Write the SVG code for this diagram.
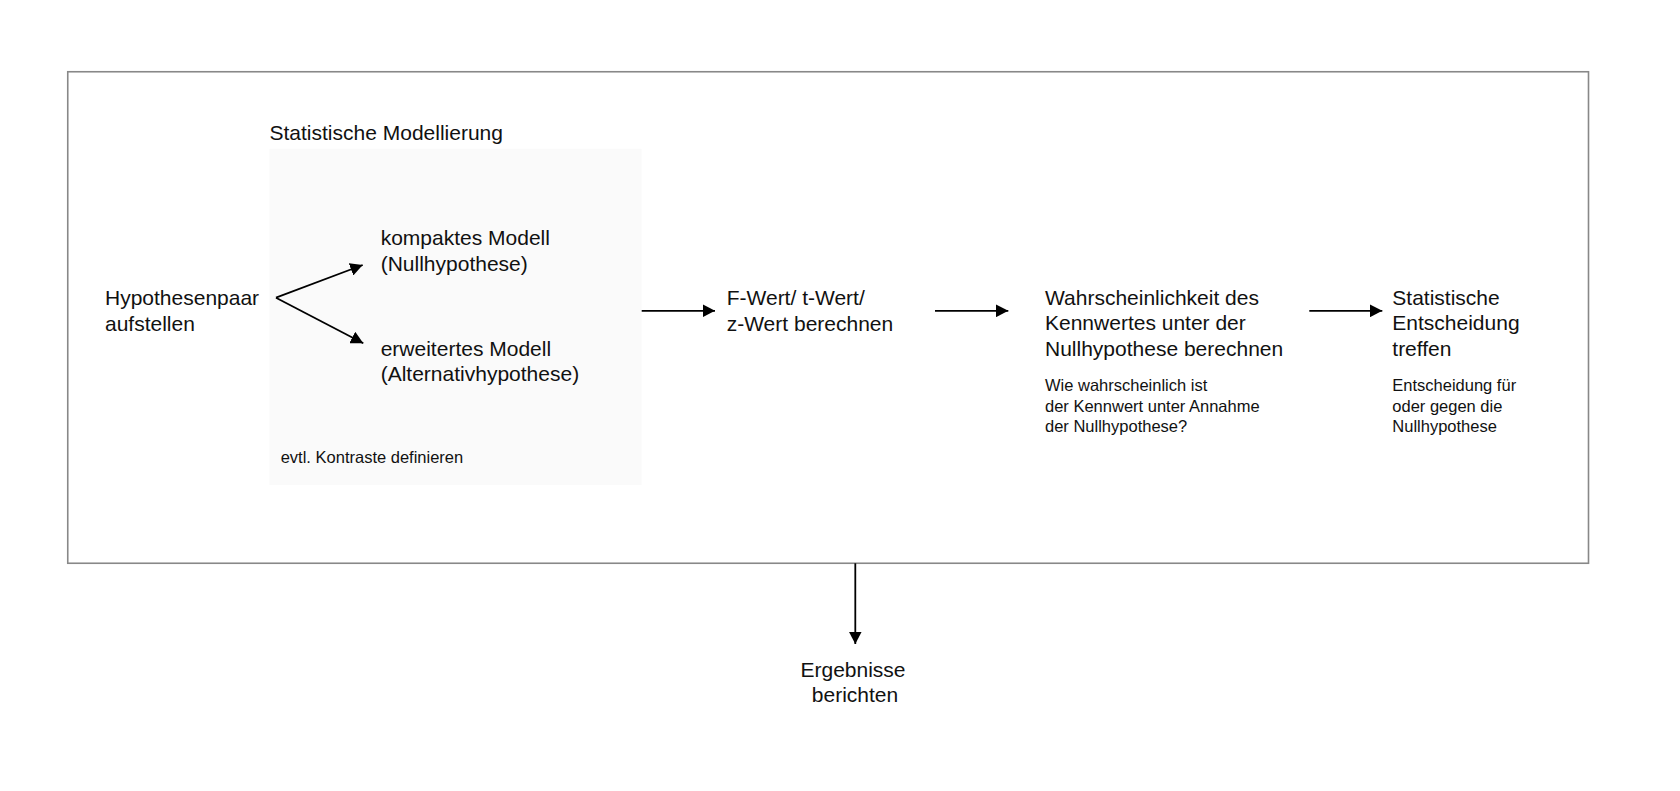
<svg xmlns="http://www.w3.org/2000/svg" width="1680" height="791" viewBox="0 0 1680 791">
  <defs>
    <marker id="ah" markerUnits="userSpaceOnUse" markerWidth="13" markerHeight="13" refX="12.5" refY="6.5" orient="auto">
      <path d="M0,0 L12.5,6.5 L0,13 z" fill="#000"/>
    </marker>
    <style>
      text { font-family: "Liberation Sans", Arial, sans-serif; fill: #111; }
      .main { font-size: 21px; }
      .small { font-size: 16.5px; }
      .conn { stroke: #000; stroke-width: 1.8; fill: none; marker-end: url(#ah); }
    </style>
  </defs>
  <rect width="1680" height="791" fill="#fff"/>
  <g id="frame">
    <rect x="67.75" y="71.75" width="1520.75" height="491.5" fill="none" stroke="#888" stroke-width="1.6"/>
  </g>
  <g id="modelling">
    <rect x="269.5" y="148.7" width="372" height="336.3" fill="#fafafa"/>
    <text class="main" x="269.5" y="140">Statistische Modellierung</text>
    <text class="small" x="280.7" y="462.7">evtl. Kontraste definieren</text>
  </g>
  <g id="hypothesen">
    <text class="main" x="105" y="305">Hypothesenpaar</text>
    <text class="main" x="105" y="330.7">aufstellen</text>
  </g>
  <g id="kompakt">
    <text class="main" x="380.7" y="245.3">kompaktes Modell</text>
    <text class="main" x="380.7" y="271">(Nullhypothese)</text>
  </g>
  <g id="erweitert">
    <text class="main" x="380.7" y="355.7">erweitertes Modell</text>
    <text class="main" x="380.7" y="381.4">(Alternativhypothese)</text>
  </g>
  <g id="kennwert">
    <text class="main" x="726.7" y="305">F-Wert/ t-Wert/</text>
    <text class="main" x="726.7" y="330.7">z-Wert berechnen</text>
  </g>
  <g id="wahrscheinlichkeit">
    <text class="main" x="1045" y="304.5">Wahrscheinlichkeit des</text>
    <text class="main" x="1045" y="330.2">Kennwertes unter der</text>
    <text class="main" x="1045" y="355.9">Nullhypothese berechnen</text>
    <text class="small" x="1045" y="391">Wie wahrscheinlich ist</text>
    <text class="small" x="1045" y="411.7">der Kennwert unter Annahme</text>
    <text class="small" x="1045" y="432.4">der Nullhypothese?</text>
  </g>
  <g id="entscheidung">
    <text class="main" x="1392.3" y="304.5">Statistische</text>
    <text class="main" x="1392.3" y="330.2">Entscheidung</text>
    <text class="main" x="1392.3" y="355.9">treffen</text>
    <text class="small" x="1392.3" y="391">Entscheidung für</text>
    <text class="small" x="1392.3" y="411.7">oder gegen die</text>
    <text class="small" x="1392.3" y="432.4">Nullhypothese</text>
  </g>
  <g id="bericht">
    <text class="main" x="853" y="676.7" text-anchor="middle">Ergebnisse</text>
    <text class="main" x="855" y="702.4" text-anchor="middle">berichten</text>
  </g>
  <g id="connectors">
    <line class="conn" x1="276" y1="297.7" x2="362.7" y2="265"/>
    <line class="conn" x1="276" y1="297.7" x2="363.3" y2="343.3"/>
    <line class="conn" x1="641.7" y1="310.8" x2="715" y2="310.8"/>
    <line class="conn" x1="935" y1="310.8" x2="1008.3" y2="310.8"/>
    <line class="conn" x1="1309.3" y1="310.8" x2="1382.3" y2="310.8"/>
    <line class="conn" x1="855.3" y1="563.3" x2="855.3" y2="644"/>
  </g>
</svg>
